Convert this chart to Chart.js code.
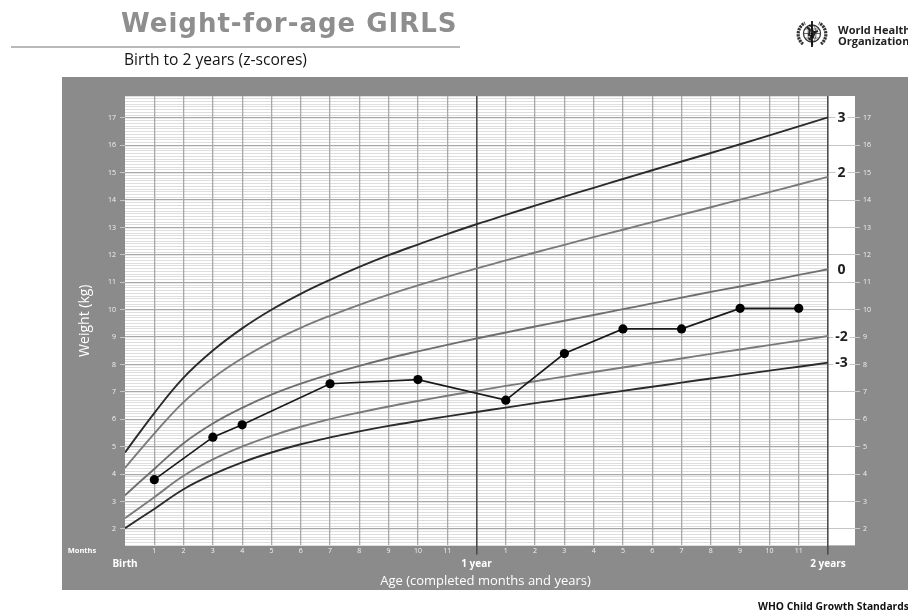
<!DOCTYPE html>
<html>
<head>
<meta charset="utf-8">
<script src="https://cdn.jsdelivr.net/npm/chart.js@4.4.1/dist/chart.umd.min.js"></script>
<style>
  html, body { margin: 0; padding: 0; background: #fff; }
  #wrap { position: relative; width: 908px; height: 613px; overflow: hidden; font-family: "Open Sans", sans-serif; }
  #chart { position: absolute; left: 0; top: 0; }
  .ov { position: absolute; white-space: nowrap; line-height: 1; pointer-events: none; }
  #title { left: 121px; top: 10px; font-family: "DejaVu Sans", sans-serif; font-size: 26px; letter-spacing: 1px; font-weight: 700; color: #8e8e8e; }
  #rule { position: absolute; left: 11px; top: 46px; width: 449px; height: 2px; background: #b8b8b8; }
  #subtitle { left: 124px; top: 52px; font-size: 15.6px; color: #141414; }
  #who1 { left: 838px; top: 24px; font-size: 11px; font-weight: 700; color: #222; }
  #who2 { left: 838px; top: 35px; font-size: 11px; font-weight: 700; color: #222; }
  #footer { left: 758px; top: 601px; font-size: 10.3px; font-weight: 700; color: #111; }
  #logo { position: absolute; left: 796px; top: 19px; }
</style>
</head>
<body>
<div id="wrap">
  <canvas id="chart" width="908" height="613"></canvas>
  <div class="ov" id="title">Weight-for-age GIRLS</div>
  <div id="rule"></div>
  <div class="ov" id="subtitle">Birth to 2 years (z-scores)</div>
  <svg id="logo" width="32" height="30" viewBox="0 0 32 30">
    <path d="M7 25 A12.5 12.5 0 0 1 9 4" stroke="#333" stroke-width="3.2" fill="none" stroke-dasharray="2.2 0.8"/>
    <path d="M25 25 A12.5 12.5 0 0 0 23 4" stroke="#333" stroke-width="3.2" fill="none" stroke-dasharray="2.2 0.8"/>
    <circle cx="16" cy="14.5" r="8.5" fill="#fff" stroke="#333" stroke-width="1.3"/>
    <ellipse cx="16" cy="14.5" rx="4" ry="8.5" fill="none" stroke="#555" stroke-width="0.9"/>
    <line x1="7.5" y1="14.5" x2="24.5" y2="14.5" stroke="#555" stroke-width="0.9"/>
    <line x1="9" y1="10" x2="23" y2="10" stroke="#555" stroke-width="0.8"/>
    <line x1="9" y1="19" x2="23" y2="19" stroke="#555" stroke-width="0.8"/>
    <path d="M11 8 L14 11 L13 16 L17 18 L19 13 L22 12" stroke="#222" stroke-width="2" fill="none"/>
    <line x1="16" y1="2" x2="16" y2="28" stroke="#111" stroke-width="1.8"/>
    <path d="M13 6 C19 8 13 11 19 13 C13 15 19 17 13 20 C19 22 14 24 17 26" stroke="#111" stroke-width="1.2" fill="none"/>
  </svg>
  <div class="ov" id="who1">World Health</div>
  <div class="ov" id="who2">Organization</div>
  <div class="ov" id="footer">WHO Child Growth Standards</div>
</div>
<script>
// ---- Data (WHO weight-for-age, girls, birth to 2 years; kg) ----
const ageMonths = [0,1,2,3,4,5,6,7,8,9,10,11,12,13,14,15,16,17,18,19,20,21,22,23,24];
const zPlus3  = [4.79,6.23,7.52,8.51,9.32,10.00,10.58,11.09,11.56,11.99,12.38,12.76,13.12,13.46,13.80,14.13,14.45,14.77,15.09,15.41,15.72,16.04,16.36,16.69,17.02];
const zPlus2  = [4.23,5.48,6.63,7.51,8.23,8.83,9.34,9.78,10.18,10.55,10.89,11.20,11.51,11.80,12.09,12.37,12.65,12.92,13.20,13.47,13.74,14.02,14.29,14.57,14.85];
const zMedian = [3.23,4.19,5.13,5.85,6.42,6.90,7.30,7.64,7.95,8.23,8.48,8.72,8.95,9.17,9.39,9.60,9.81,10.02,10.23,10.44,10.65,10.85,11.06,11.27,11.48];
const zMinus2 = [2.39,3.16,3.94,4.54,5.01,5.40,5.73,6.01,6.25,6.47,6.67,6.86,7.04,7.22,7.39,7.56,7.73,7.89,8.06,8.22,8.39,8.55,8.71,8.87,9.04];
const zMinus3 = [2.03,2.73,3.45,3.99,4.43,4.79,5.09,5.34,5.56,5.76,5.94,6.11,6.27,6.43,6.59,6.74,6.89,7.04,7.19,7.34,7.49,7.63,7.78,7.92,8.07];
const zScoreLabels = ['3','2','0','-2','-3'];

const childAgeMonths = [1,3,4,7,10,13,15,17,19,21,23];
const childWeightKg  = [3.8,5.35,5.8,7.3,7.45,6.7,8.4,9.3,9.3,10.05,10.05];

const monthTickLabels = ['','1','2','3','4','5','6','7','8','9','10','11','','1','2','3','4','5','6','7','8','9','10','11',''];
const landmarkTickLabels = ['Birth','1 year','2 years'];
const xTitle = 'Age (completed months and years)';
const yTitle = 'Weight (kg)';
const monthsCaption = 'Months';

// ---- Styling ----
const FONT = '"Open Sans", sans-serif';
const PANEL = '#8b8b8b';
const isInt = v => Math.abs(v - Math.round(v)) < 1e-6;
const isYear = v => v === 12 || v === 24;

const curveSeries = [
  { vals: zPlus3,  color: '#2b2b2b', width: 1.9 },
  { vals: zPlus2,  color: '#7b7b7b', width: 1.9 },
  { vals: zMedian, color: '#6f6f6f', width: 1.9 },
  { vals: zMinus2, color: '#7b7b7b', width: 1.9 },
  { vals: zMinus3, color: '#2b2b2b', width: 1.9 }
];

const datasets = curveSeries.map((c, k) => ({
  label: 'z ' + zScoreLabels[k],
  data: ageMonths.map((m, i) => ({ x: m, y: c.vals[i] })),
  borderColor: c.color,
  borderWidth: c.width,
  pointRadius: 0,
  tension: 0.4,
  fill: false,
  order: 1
}));
datasets.push({
  label: 'child',
  data: childAgeMonths.map((m, i) => ({ x: m, y: childWeightKg[i] })),
  borderColor: '#1a1a1a',
  borderWidth: 1.7,
  pointRadius: 4.6,
  pointBackgroundColor: '#000',
  pointBorderColor: '#000',
  pointBorderWidth: 0,
  tension: 0,
  fill: false,
  order: 0
});

const COLUMN_W = 27; // white column right of the 2-year line holding z labels

const panelPlugin = {
  id: 'panel',
  beforeDraw(chart) {
    const { ctx, chartArea: a } = chart;
    ctx.save();
    ctx.fillStyle = PANEL;
    ctx.fillRect(62, 77, chart.width - 62, 513);
    ctx.fillStyle = '#fff';
    ctx.fillRect(a.left, a.top, a.right - a.left + COLUMN_W, a.bottom - a.top);
    ctx.restore();
  },
  afterDatasetsDraw(chart) {
    const { ctx, chartArea: a } = chart;
    const ys = chart.scales.y;
    ctx.save();
    ctx.font = 'bold 14px ' + FONT;
    ctx.textAlign = 'center';
    ctx.textBaseline = 'middle';
    curveSeries.forEach((c, k) => {
      const yv = ys.getPixelForValue(c.vals[c.vals.length - 1]) + (k === 1 ? -4 : 0);
      const xv = a.right + COLUMN_W / 2;
      const w = ctx.measureText(zScoreLabels[k]).width + 4;
      ctx.fillStyle = '#fff';
      ctx.fillRect(xv - w / 2, yv - 8, w, 16);
      ctx.fillStyle = '#1e1e1e';
      ctx.fillText(zScoreLabels[k], xv, yv + 0.5);
    });
    ctx.restore();
  },
  afterDraw(chart) {
    const { ctx, chartArea: a } = chart;
    ctx.save();
    ctx.fillStyle = '#ffffff';
    ctx.textAlign = 'center';
    ctx.textBaseline = 'middle';
    ctx.font = '13px ' + FONT;
    ctx.fillText(xTitle, (a.left + a.right) / 2 + 9, a.bottom + 36);
    ctx.font = 'bold 7.5px ' + FONT;
    ctx.fillText(monthsCaption, 82, a.bottom + 5);
    ctx.restore();
  }
};

new Chart(document.getElementById('chart'), {
  type: 'line',
  data: { datasets },
  plugins: [panelPlugin],
  options: {
    responsive: false,
    animation: false,
    layout: { padding: { top: 96, left: 0, right: 0, bottom: 0 } },
    plugins: { legend: { display: false }, tooltip: { enabled: false } },
    scales: {
      yMinor: {
        type: 'linear', position: 'left', min: 1.4, max: 17.8, weight: 1,
        border: { display: false },
        grid: {
          z: -2,
          drawTicks: false,
          color: c => isInt(c.tick.value) ? '#a8a8a8' : '#dedede',
          lineWidth: c => isInt(c.tick.value) ? 1.3 : 1
        },
        ticks: { display: false, stepSize: 0.1, includeBounds: false },
        afterFit: s => { s.width = 0; }
      },
      y: {
        type: 'linear', position: 'left', min: 1.4, max: 17.8, weight: 0,
        border: { display: false },
        grid: { drawOnChartArea: false, drawTicks: true, tickLength: 5, tickColor: '#c4c4c4', tickWidth: 1 },
        ticks: { stepSize: 1, includeBounds: false, color: '#f2f2f2', font: { family: FONT, size: 7 }, padding: 4 },
        title: { display: true, text: yTitle, color: '#ffffff', font: { family: FONT, size: 14 }, padding: { top: 77, bottom: 0 } },
        afterFit: s => { s.width = 125; }
      },
      yRight: {
        type: 'linear', position: 'right', min: 1.4, max: 17.8,
        border: { display: false },
        grid: { drawOnChartArea: false, drawTicks: true, tickLength: 32, tickColor: '#c6c6c6', tickWidth: 1 },
        ticks: { stepSize: 1, includeBounds: false, color: '#f2f2f2', font: { family: FONT, size: 7 }, padding: 3 },
        afterFit: s => { s.width = 80; }
      },
      x: {
        type: 'linear', position: 'bottom', min: 0, max: 24, weight: 0,
        border: { display: false },
        grid: {
          z: -1,
          color: c => c.tick.value === 0 ? 'rgba(0,0,0,0)' : (isYear(c.tick.value) ? '#4c4c4c' : '#a8a8a8'),
          lineWidth: c => isYear(c.tick.value) ? 1.6 : 1.3,
          drawTicks: true, tickLength: 9, tickWidth: 1.6,
          tickColor: c => isYear(c.tick.value) ? '#4c4c4c' : 'rgba(0,0,0,0)'
        },
        ticks: {
          stepSize: 1, autoSkip: false, minRotation: 0, maxRotation: 0,
          color: '#f2f2f2', font: { family: FONT, size: 7 }, padding: -7.6,
          callback: v => monthTickLabels[v]
        },
        afterFit: s => { s.height = 12; }
      },
      x2: {
        type: 'linear', position: 'bottom', min: 0, max: 24, weight: 1,
        border: { display: false },
        grid: { display: false, drawTicks: false },
        ticks: {
          stepSize: 12, autoSkip: false, minRotation: 0, maxRotation: 0,
          color: '#ffffff', font: { family: FONT, size: 10, weight: 'bold' }, padding: 1,
          callback: v => landmarkTickLabels[v / 12]
        },
        afterFit: s => { s.height = 55.6; }
      }
    }
  }
});
</script>
</body>
</html>
